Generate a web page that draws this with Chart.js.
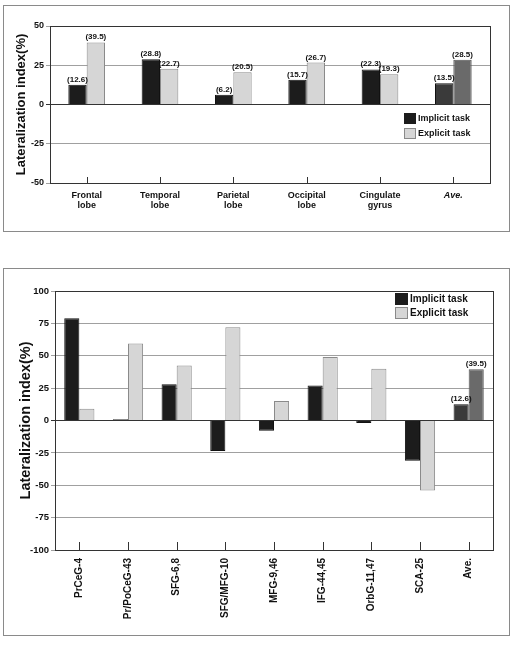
<!DOCTYPE html>
<html>
<head>
<meta charset="utf-8">
<script src="https://cdn.jsdelivr.net/npm/chart.js@4.4.1/dist/chart.umd.min.js"></script>
<style>
  body { margin: 0; background: #fff; font-family: "Liberation Sans", Arial, sans-serif; }
  .frame { position: absolute; border: 1px solid #8a8a8a; box-sizing: border-box; }
  .holder { position: absolute; }
  .leg { position: absolute; font: bold 9px "Liberation Sans", Arial, sans-serif; color: #111; white-space: nowrap; }
  .leg span { display: inline-block; vertical-align: middle; box-sizing: border-box; margin-right: 2px; }
</style>
</head>
<body>
<div class="frame" style="left:3px;top:5px;width:507px;height:227px"></div>
<div class="holder" style="left:3px;top:5px;width:507px;height:227px"><canvas id="topChart"></canvas></div>

<div class="frame" style="left:3px;top:268px;width:507px;height:368px"></div>
<div class="holder" style="left:3px;top:268px;width:507px;height:368px"><canvas id="bottomChart"></canvas></div>

<div class="leg" style="left:404px;top:111px;line-height:15px">
  <div><span style="width:12px;height:11px;background:#1c1c1c"></span>Implicit task</div>
  <div><span style="width:12px;height:11px;background:#d6d6d6;border:1px solid #8a8a8a"></span>Explicit task</div>
</div>
<div class="leg" style="left:395px;top:292px;line-height:14px;font-size:10px">
  <div><span style="width:13px;height:12px;background:#1c1c1c"></span>Implicit task</div>
  <div><span style="width:13px;height:12px;background:#d6d6d6;border:1px solid #8a8a8a"></span>Explicit task</div>
</div>

<script>
// top figure: lobes
const topCats = [['Frontal', 'lobe'], ['Temporal', 'lobe'], ['Parietal', 'lobe'], ['Occipital', 'lobe'], ['Cingulate', 'gyrus'], 'Ave.'];
const topImplicit = [12.6, 28.8, 6.2, 15.7, 22.3, 13.5];
const topExplicit = [39.5, 22.7, 20.5, 26.7, 19.3, 28.5];
const topRange = [-50, 50];

// bottom figure: regions
const bottomCats = ['PrCeG-4', 'Pr/PoCeG-43', 'SFG-6,8', 'SFG/MFG-10', 'MFG-9,46', 'IFG-44,45', 'OrbG-11,47', 'SCA-25', 'Ave.'];
const bottomImplicit = [79, 1, 28, -23.5, -8, 27, -2, -31, 12.6];
const bottomExplicit = [9, 59.5, 42.5, 72, 15, 49, 40, -54, 39.5];
const bottomRange = [-100, 100];

const seriesNames = ['Implicit task', 'Explicit task'];
const FONT = '"Liberation Sans", Arial, sans-serif';

// frame round the plot + small tick marks at each category
const framePlugin = {
  id: 'frame',
  afterDraw(chart, args, opts) {
    const {ctx, chartArea: a} = chart;
    const xs = chart.scales.x;
    ctx.save();
    ctx.strokeStyle = '#333';
    ctx.lineWidth = 1;
    ctx.strokeRect(a.left + 0.5, a.top + 0.5, a.right - a.left, a.bottom - a.top);
    ctx.beginPath();
    xs.ticks.forEach((t, i) => {
      const x = Math.round(xs.getPixelForTick(i)) + 0.5;
      ctx.moveTo(x, a.bottom);
      ctx.lineTo(x, a.bottom - opts.mark);
    });
    ctx.stroke();
    ctx.restore();
  }
};

// "(12.6)" style labels over bars
const valuePlugin = {
  id: 'values',
  afterDatasetsDraw(chart, args, opts) {
    const ctx = chart.ctx;
    ctx.save();
    ctx.font = 'bold 8px ' + FONT;
    ctx.fillStyle = '#111';
    ctx.textAlign = 'center';
    chart.data.datasets.forEach((ds, di) => {
      const meta = chart.getDatasetMeta(di);
      meta.data.forEach((bar, i) => {
        if (!opts.indices.includes(i)) return;
        const v = ds.data[i];
        ctx.fillText('(' + v.toFixed(1) + ')', bar.x, bar.y - 3);
      });
    });
    ctx.restore();
  }
};

function makeChart(id, cats, impl, expl, range, cfg) {
  const last = cats.length - 1;
  return new Chart(document.getElementById(id), {
    type: 'bar',
    data: {
      labels: cats,
      datasets: [
        {
          label: seriesNames[0],
          data: impl,
          backgroundColor: c => c.dataIndex === last ? '#3a3a3a' : '#1c1c1c',
          borderColor: '#111',
          borderWidth: 1,
          categoryPercentage: cfg.catPct,
          barPercentage: 1
        },
        {
          label: seriesNames[1],
          data: expl,
          backgroundColor: c => c.dataIndex === last ? '#6a6a6a' : '#d6d6d6',
          borderColor: c => c.dataIndex === last ? '#555' : '#8a8a8a',
          borderWidth: 1,
          categoryPercentage: cfg.catPct,
          barPercentage: 1
        }
      ]
    },
    options: {
      responsive: true,
      maintainAspectRatio: false,
      animation: false,
      layout: { padding: cfg.padding },
      plugins: {
        legend: { display: false },
        tooltip: { enabled: false },
        values: { indices: cfg.labelled },
        frame: { mark: cfg.mark }
      },
      scales: {
        x: {
          grid: { display: false },
          border: { display: false },
          afterFit: s => { s.height = cfg.xHeight; },
          ticks: {
            autoSkip: false,
            minRotation: cfg.rot,
            maxRotation: cfg.rot,
            padding: cfg.xPad,
            color: '#111',
            font: c => ({
              family: FONT, size: cfg.xFont, weight: 'bold', lineHeight: 1.15,
              style: (cfg.italicAve && c.index === last) ? 'italic' : 'normal'
            })
          }
        },
        y: {
          min: range[0],
          max: range[1],
          border: { display: false },
          afterFit: s => { s.width = cfg.yWidth; },
          grid: {
            color: c => c.tick && c.tick.value === 0 ? '#333' : '#a0a0a0',
            lineWidth: 1,
            tickLength: 4
          },
          ticks: {
            stepSize: 25,
            padding: 2,
            color: '#111',
            font: { family: FONT, size: cfg.yFont, weight: 'bold' }
          },
          title: {
            display: true,
            text: 'Lateralization index(%)',
            color: '#111',
            padding: { top: cfg.titlePad, bottom: 0 },
            font: { family: FONT, size: cfg.titleFont, weight: 'bold' }
          }
        }
      }
    },
    plugins: [framePlugin, valuePlugin]
  });
}

makeChart('topChart', topCats, topImplicit, topExplicit, topRange, {
  catPct: 0.5,
  padding: { left: 0, top: 21, right: 20, bottom: 0 },
  labelled: [0, 1, 2, 3, 4, 5],
  mark: 6,
  xHeight: 49,
  yWidth: 47,
  rot: 0,
  xPad: -1,
  xFont: 9,
  yFont: 9,
  italicAve: true,
  titlePad: 11,
  titleFont: 13
});

makeChart('bottomChart', bottomCats, bottomImplicit, bottomExplicit, bottomRange, {
  catPct: 0.62,
  padding: { left: 0, top: 23, right: 17, bottom: 0 },
  labelled: [8],
  mark: 8,
  xHeight: 86,
  yWidth: 52,
  rot: 90,
  xPad: 0,
  xFont: 10,
  yFont: 9.5,
  italicAve: false,
  titlePad: 14,
  titleFont: 14.5
});
</script>
</body>
</html>
